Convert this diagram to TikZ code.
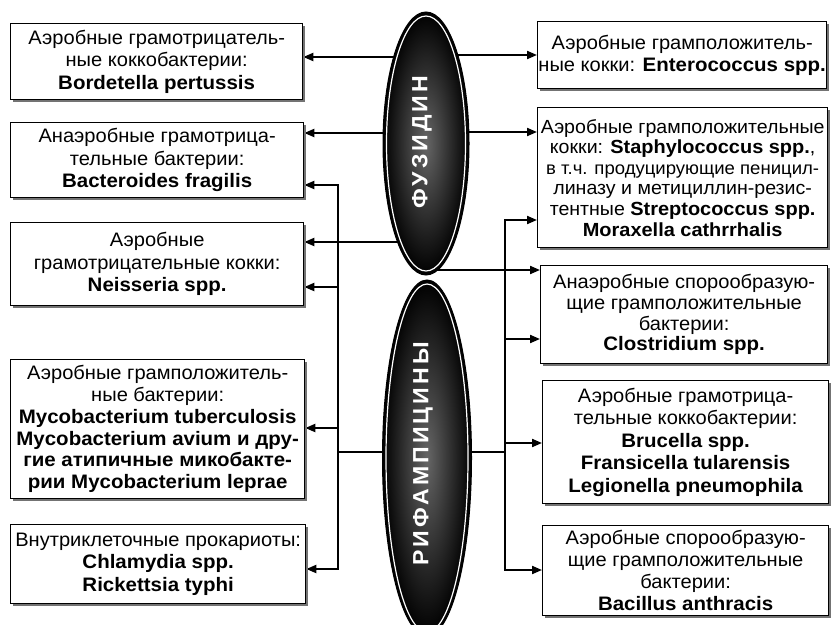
\documentclass[tikz,border=0pt]{standalone}
\usepackage{fontspec}
\setmainfont{Liberation Sans}[FakeStretch=1.03, BoldFeatures={FakeStretch=1.05}]
\usetikzlibrary{arrows.meta,shadows,backgrounds,shapes.geometric}

\begin{document}
\begin{tikzpicture}[x=1pt,y=-1pt,
  box/.style={draw=black, line width=1.3pt, fill=white, anchor=north west,
    inner sep=0pt, align=center, font=\fontsize{19.5}{22.5}\selectfont,
    drop shadow={shadow xshift=2.5pt, shadow yshift=-2.5pt, fill=black!55, opacity=1}},
  drug/.style={ellipse, draw=black, line width=1pt, inner sep=0pt,
    shade, inner color=black!60, outer color=black},
  drugname/.style={rotate=90, text=white,
    font=\fontsize{22}{26}\selectfont\bfseries\addfontfeature{LetterSpace=14}},
  rim/.style={draw=white, line width=1.2pt},
  conn/.style={line width=2pt, line cap=rect},
  arr/.style={line width=2pt, -{Triangle[length=10pt,width=8pt]}}
]
\useasboundingbox (0,0) rectangle (832,624);
\clip (0,0) rectangle (832,624);

% organism groups, left column
\node[box, minimum width=292, minimum height=76] (b1) at (10,23)
  {Аэробные грамотрицатель-\\ные коккобактерии:\\\textbf{Bordetella pertussis}};
\node[box, minimum width=293, minimum height=75] (b2) at (10,122)
  {Анаэробные грамотрица-\\тельные бактерии:\\\textbf{Bacteroides fragilis}};
\node[box, minimum width=293, minimum height=83] (b3) at (10,222)
  {Аэробные\\грамотрицательные кокки:\\\textbf{Neisseria spp.}};
\node[box, minimum width=294, minimum height=139, font=\fontsize{19.5}{21.8}\selectfont] (b4) at (10,359)
  {Аэробные грамположитель-\\ные бактерии:\\\textbf{Mycobacterium tuberculosis}\\
   \textbf{Mycobacterium avium и дру-}\\\textbf{гие атипичные микобакте-}\\
   \textbf{рии Mycobacterium leprae}};
\node[box, minimum width=295, minimum height=79] (b5) at (10,524)
  {Внутриклеточные прокариоты:\\\textbf{Chlamydia spp.}\\\textbf{Rickettsia typhi}};

% organism groups, right column
\node[box, minimum width=289, minimum height=67] (r1) at (537,21)
  {Аэробные грамположитель-\\ные кокки: \textbf{Enterococcus spp.}};
\node[box, minimum width=290, minimum height=140, font=\fontsize{19}{20.6}\selectfont] (r2) at (537,107)
  {Аэробные грамположительные\\кокки: \textbf{Staphylococcus spp.},\\
   {\fontsize{18}{20.6}\selectfont в т.ч. продуцирующие пеницил-}\\линазу и метициллин-резис-\\
   тентные \textbf{Streptococcus spp.}\\\textbf{Moraxella cathrrhalis}};
\node[box, minimum width=287, minimum height=98, font=\fontsize{19.5}{20.8}\selectfont] (r3) at (540,265)
  {Анаэробные спорообразую-\\щие грамположительные\\бактерии:\\\textbf{Clostridium spp.}};
\node[box, minimum width=286, minimum height=123] (r4) at (542,380)
  {Аэробные грамотрица-\\тельные коккобактерии:\\\textbf{Brucella spp.}\\
   \textbf{Fransicella tularensis}\\\textbf{Legionella pneumophila}};
\node[box, minimum width=286, minimum height=90, font=\fontsize{19.5}{22}\selectfont] (r5) at (542,525)
  {Аэробные спорообразую-\\щие грамположительные\\бактерии:\\\textbf{Bacillus anthracis}};

% the two antibiotic groups
\node[drug, minimum width=86, minimum height=263] (fus) at (426,143.5) {};
\draw[rim] (fus.center) ellipse [x radius=39.5pt, y radius=127.5pt];
\node[drugname] (fusname) at (422,142) {ФУЗИДИН};

\node[drug, minimum width=89, minimum height=356] (rif) at (427,458) {};
\draw[rim] (rif.center) ellipse [x radius=41pt, y radius=174pt];
\node[drugname] (rifname) at (423,454) {РИФАМПИЦИНЫ};

% connectors, drawn behind the ellipses
\begin{scope}[on background layer]
  % fusidin
  \draw[arr] (fus.center |- 0,57)  -- (b1.east |- 0,57);
  \draw[arr] (fus.center |- 0,133) -- (b2.east |- 0,133);
  \draw[arr] (fus.center |- 0,242) -- (b3.east |- 0,242);
  \draw[arr] (fus.center |- 0,55)  -- (r1.west |- 0,55);
  \draw[arr] (fus.center |- 0,132) -- (r2.west |- 0,132);
  \draw[arr] (fus.center |- 0,270) -- (r3.west |- 0,270);
  % rifamycins, left bus
  \coordinate (lbus) at (338,452);
  \draw[conn] (rif.center |- lbus) -- (lbus);
  \draw[conn] (lbus |- 0,185) -- (lbus |- 0,569);
  \draw[arr] (lbus |- 0,185) -- (b2.east |- 0,185);
  \draw[arr] (lbus |- 0,287) -- (b3.east |- 0,287);
  \draw[arr] (lbus |- 0,428) -- (b4.east |- 0,428);
  \draw[arr] (lbus |- 0,569) -- (b5.east |- 0,569);
  % rifamycins, right bus
  \coordinate (rbus) at (505,452);
  \draw[conn] (rif.center |- rbus) -- (rbus);
  \draw[conn] (rbus |- 0,220) -- (rbus |- 0,570);
  \draw[arr] (rbus |- 0,220) -- (r2.west |- 0,220);
  \draw[arr] (rbus |- 0,339) -- (r3.west |- 0,339);
  \draw[arr] (rbus |- 0,443) -- (r4.west |- 0,443);
  \draw[arr] (rbus |- 0,570) -- (r5.west |- 0,570);
\end{scope}
\end{tikzpicture}
\end{document}
